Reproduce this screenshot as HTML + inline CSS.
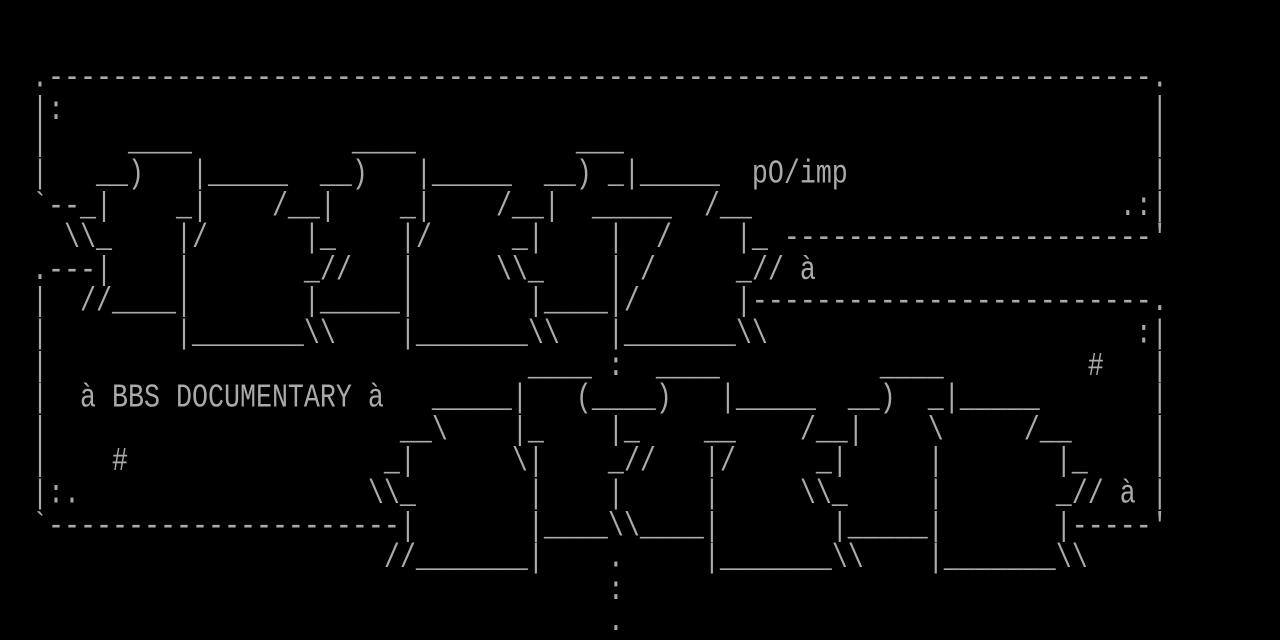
<!DOCTYPE html>
<html><head><meta charset="utf-8">
<style>
html,body{margin:0;padding:0;background:#000;width:1280px;height:640px;overflow:hidden}
pre{margin:0;padding:0;font-family:"Liberation Mono","DejaVu Sans Mono",monospace;font-size:26.667px;line-height:25.6px;color:#aaaaaa;white-space:pre;transform:scale(1,1.25);transform-origin:0 0}
</style></head><body><pre>


  .---------------------------------------------------------------------.
  |:                                                                    |
  |     ____          ____          ___                                 |
  |   __)   |_____  __)   |_____  __) _|_____  pO/imp                   |
  `--_|    _|    /__|    _|    /__|  _____  /__                       .:|
    \\_    |/      |_    |/     _|    |  /    |_ -----------------------'
  .---|    |       _//   |     \\_    | /     _// à
  |  //____|       |_____|       |____|/      |-------------------------.
  |        |_______\\    |_______\\   |_______\\                       :|
  |                              ____ :  ____          ____         #   |
  |  à BBS DOCUMENTARY à   _____|   (____)   |_____  __)  _|_____       |
  |                      __\    |_    |_    __    /__|    \     /__     |
  |    #                _|      \|    _//   |/     _|     |       |_    |
  |:.                  \\_       |    |     |     \\_     |       _// à |
  `----------------------|       |____\\____|       |_____|       |-----'
                        //_______|    .     |_______\\    |_______\\
                                      :
                                      .
</pre></body></html>
